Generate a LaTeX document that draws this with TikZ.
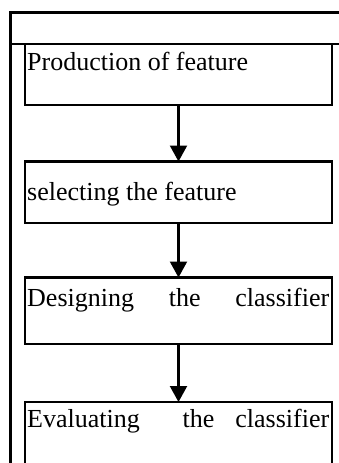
\documentclass[tikz,border=0pt]{standalone}
\usepackage{fontspec}
\setmainfont{Liberation Serif}
\usetikzlibrary{arrows.meta}
\begin{document}
\begin{tikzpicture}[x=1pt,y=-1pt,
  framestroke/.style={line width=2.2pt},
  stagebox/.style={draw,line width=2.2pt,minimum width=307pt,inner sep=0pt,outer sep=0pt,anchor=north west},
  stagetext/.style={anchor=base west,inner sep=0pt,font=\fontsize{26pt}{30pt}\selectfont},
  flow/.style={line width=2.2pt,-{Triangle[length=16pt,width=17pt]}}]
\useasboundingbox (0,0) rectangle (339,463);
\fill[white] (0,0) rectangle (339,463);
\clip (0,0) rectangle (339,463);
% outer frame with its header row
\draw[framestroke] (10.5,480) -- (10.5,12.5) -- (350,12.5);
\draw[framestroke] (10.5,44) -- (350,44);
% the four stages
\node[stagebox,minimum height=61pt] (b1) at (25,44) {};
\node[stagebox,minimum height=61.5pt] (b2) at (25,161.5) {};
\node[stagebox,minimum height=66.5pt] (b3) at (25,277.5) {};
\node[stagebox,minimum height=80pt] (b4) at (25,402) {};
% stage texts
\node[stagetext] (t1) at (27,70) {Production of feature};
\node[stagetext] (t2) at (27,200) {selecting the feature};
\node[stagetext] (t3) at (27,306) {\hbox to 302pt{Designing\hfill the\hfill classifier}};
\node[stagetext] (t4) at (27,427) {\hbox to 302pt{Evaluating\hfill the\hspace{21pt}classifier}};
% flow arrows
\draw[flow] (b1) -- (b2);
\draw[flow] (b2) -- (b3);
\draw[flow] (b3) -- (b4);
\end{tikzpicture}
\end{document}
